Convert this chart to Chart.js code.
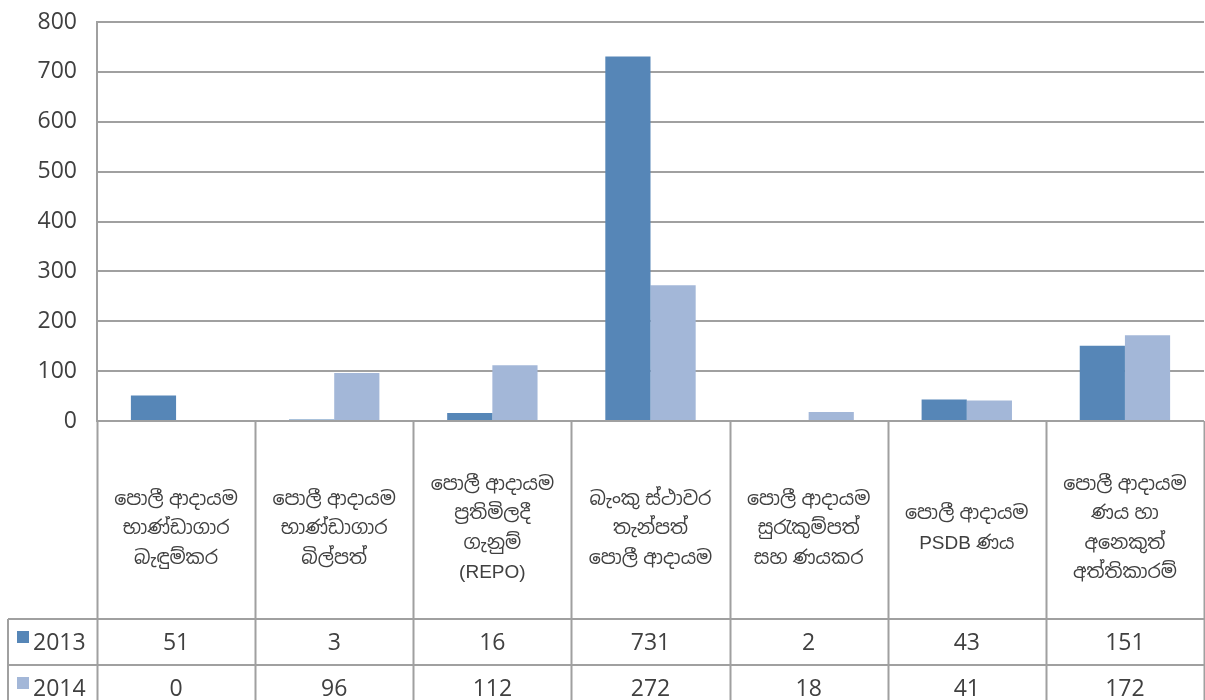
<!DOCTYPE html>
<html>
<head>
<meta charset="utf-8">
<script src="https://cdn.jsdelivr.net/npm/chart.js@4"></script>
<style>
    html, body { margin: 0; padding: 0; background: #fff; }
    #wrap { width: 1205px; height: 700px; position: relative; }
</style>
</head>
<body>
<div id="wrap"><canvas id="chart-barras" width="1205" height="700"></canvas></div>
<script>
// categorias (cada una partida en lineas como en la tabla)
const categories = [
    ["පොලී ආදායම", "භාණ්ඩාගාර", "බැඳුම්කර"],
    ["පොලී ආදායම", "භාණ්ඩාගාර", "බිල්පත්"],
    ["පොලී ආදායම", "ප්‍රතිමිලදී", "ගැනුම්", "(REPO)"],
    ["බැංකු ස්ථාවර", "තැන්පත්", "පොලී ආදායම"],
    ["පොලී ආදායම", "සුරැකුම්පත්", "සහ ණයකර"],
    ["පොලී ආදායම", "PSDB ණය"],
    ["පොලී ආදායම", "ණය හා", "අනෙකුත්", "අත්තිකාරම්"],
];
const seriesNames = ["2013", "2014"];
const values2013 = [51, 3, 16, 731, 2, 43, 151];
const values2014 = [0, 96, 112, 272, 18, 41, 172];
const yTicks = [0, 100, 200, 300, 400, 500, 600, 700, 800];

const colors = ["#5686b7", "#a3b7d8"];
const lineColor = "#a0a0a0";
const textColor = "#404040";
const numFamily = "'Open Sans', 'DejaVu Sans', sans-serif";
const numFont = "23px " + numFamily;
const catFont = "19px 'Liberation Sans', 'Noto Sans Sinhala', 'Iskoola Pota', 'Noto Sans', sans-serif";

// tabla de datos bajo el grafico
const tablePlugin = {
    id: "dataTable",
    afterDraw(chart) {
        const ctx = chart.ctx;
        const area = chart.chartArea;
        const xs = chart.scales.x;
        const n = categories.length;
        const step = (area.right - area.left) / n;
        const labelBottom = area.bottom + 198;
        const rowH = 46;
        const legendLeft = 8;
        const rows = [values2013, values2014];

        ctx.save();
        ctx.strokeStyle = lineColor;
        ctx.lineWidth = 2;
        ctx.beginPath();
        for (let i = 0; i <= n; i++) {
            const x = Math.round(area.left + i * step) + 0.5;
            ctx.moveTo(x, area.bottom);
            ctx.lineTo(x, chart.height);
        }
        ctx.moveTo(legendLeft, labelBottom);
        ctx.lineTo(legendLeft, chart.height);
        for (let r = 0; r < rows.length; r++) {
            const y = labelBottom + r * rowH;
            ctx.moveTo(legendLeft, y);
            ctx.lineTo(area.right, y);
        }
        ctx.stroke();

        // etiquetas de categoria
        ctx.fillStyle = textColor;
        ctx.textAlign = "center";
        ctx.textBaseline = "middle";
        ctx.font = catFont;
        const lineH = 29.5;
        const midY = (area.bottom + labelBottom) / 2 + 9;
        categories.forEach((lines, i) => {
            const cx = xs.getPixelForValue(i);
            const y0 = midY - ((lines.length - 1) * lineH) / 2;
            lines.forEach((t, k) => ctx.fillText(t, cx, y0 + k * lineH));
        });

        // filas de valores
        ctx.font = numFont;
        rows.forEach((vals, r) => {
            const cy = labelBottom + r * rowH + rowH / 2 + 1;
            vals.forEach((v, i) => {
                ctx.fillText(String(v), xs.getPixelForValue(i), cy);
            });
            ctx.fillStyle = colors[r];
            ctx.fillRect(legendLeft + 9, cy - 12, 12, 12);
            ctx.fillStyle = textColor;
            ctx.textAlign = "left";
            ctx.fillText(seriesNames[r], legendLeft + 25, cy);
            ctx.textAlign = "center";
        });
        ctx.restore();
    },
};

document.addEventListener("DOMContentLoaded", function () {
    const ctx = document.getElementById("chart-barras").getContext("2d");
    new Chart(ctx, {
        type: "bar",
        data: {
            labels: categories.map((c) => c.join(" ")),
            datasets: [
                {
                    label: seriesNames[0],
                    data: values2013,
                    backgroundColor: colors[0],
                    borderWidth: 0,
                },
                {
                    label: seriesNames[1],
                    data: values2014,
                    backgroundColor: colors[1],
                    borderWidth: 0,
                },
            ],
        },
        options: {
            responsive: false,
            animation: false,
            datasets: {
                bar: { barPercentage: 1, categoryPercentage: 2 / 3.5 },
            },
            layout: { padding: { top: 22, right: 1, bottom: 279, left: 0 } },
            plugins: {
                legend: { display: false },
                tooltip: { enabled: false },
            },
            scales: {
                x: {
                    display: true,
                    ticks: { display: false },
                    grid: { display: false, drawTicks: false },
                    border: { display: false },
                },
                y: {
                    min: 0,
                    max: 800,
                    afterBuildTicks: (scale) => {
                        scale.ticks = yTicks.map((v) => ({ value: v }));
                    },
                    afterFit: (scale) => {
                        scale.width = 97;
                        scale.paddingTop = 0;
                        scale.paddingBottom = 0;
                    },
                    ticks: {
                        color: textColor,
                        font: { family: numFamily, size: 23 },
                        padding: 20,
                    },
                    grid: { color: lineColor, lineWidth: 2, drawTicks: false },
                    border: { color: lineColor, width: 2 },
                },
            },
        },
        plugins: [tablePlugin],
    });
});
</script>
</body>
</html>
